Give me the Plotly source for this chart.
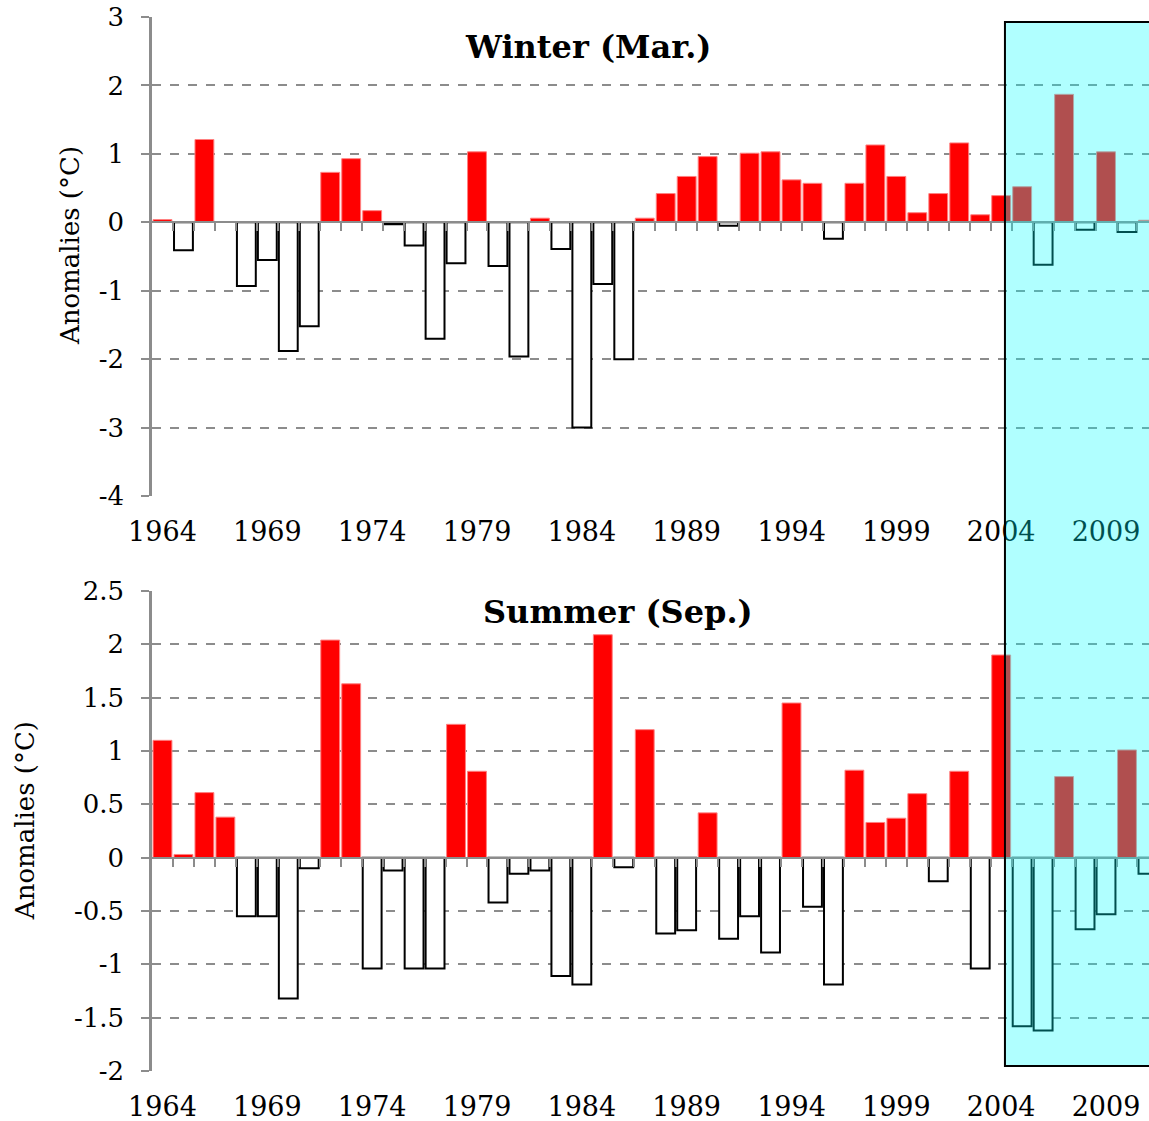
import plotly.graph_objects as go

years = list(range(1964, 2012))
winter = [0.04, -0.41, 1.21, 0.0, -0.93, -0.55, -1.88, -1.52, 0.73, 0.93,
          0.17, -0.03, -0.34, -1.70, -0.60, 1.03, -0.64, -1.96, 0.06, -0.39,
          -3.0, -0.90, -2.0, 0.06, 0.42, 0.67, 0.96, -0.05, 1.01, 1.03,
          0.62, 0.57, -0.24, 0.57, 1.13, 0.67, 0.14, 0.42, 1.16, 0.11,
          0.39, 0.52, -0.62, 1.87, -0.11, 1.03, -0.14, 0.03]
summer = [1.10, 0.03, 0.61, 0.38, -0.55, -0.55, -1.32, -0.10, 2.04, 1.63,
          -1.04, -0.12, -1.04, -1.04, 1.25, 0.81, -0.42, -0.15, -0.12, -1.11,
          -1.19, 2.09, -0.09, 1.20, -0.71, -0.68, 0.42, -0.76, -0.55, -0.89,
          1.45, -0.46, -1.19, 0.82, 0.33, 0.37, 0.60, -0.22, 0.81, -1.04,
          1.90, -1.58, -1.62, 0.76, -0.67, -0.53, 1.01, -0.15]
label_years = [1964, 1969, 1974, 1979, 1984, 1989, 1994, 1999, 2004, 2009]
top_ticks = [3, 2, 1, 0, -1, -2, -3, -4]
top_ticktext = ["3", "2", "1", "0", "-1", "-2", "-3", "-4"]
bot_ticks = [2.5, 2, 1.5, 1, 0.5, 0, -0.5, -1, -1.5, -2]
bot_ticktext = ["2.5", "2", "1.5", "1", "0.5", "0", "-0.5", "-1", "-1.5", "-2"]
titles = ["Winter (Mar.)", "Summer (Sep.)"]
ytitle = "Anomalies (°C)"
highlight_start = 2004.18

FONT = "DejaVu Serif"
GRAY = "#8c8c8c"
W, H = 1149, 1121
mt, mb, ml, mr = 17, 50, 152, 0
xr = [1963.5, 2011.05]
top_dom = [0.5455, 1.0]
bot_dom = [0.0, 0.4554]
top_rng = [-4, 3]
bot_rng = [-2, 2.5]


def styles(vals):
    fill, lc, lw = [], [], []
    for v in vals:
        if v > 0:
            fill.append("#ff0000"); lc.append("#ff8080"); lw.append(1)
        elif v < 0:
            fill.append("#ffffff"); lc.append("#000000"); lw.append(2)
        else:
            fill.append("rgba(0,0,0,0)"); lc.append("rgba(0,0,0,0)"); lw.append(0)
    return fill, lc, lw


def zero_pos(dom, rng):
    return dom[0] + (0 - rng[0]) / (rng[1] - rng[0]) * (dom[1] - dom[0])


fig = go.Figure()
for vals, xa, ya in [(winter, "x", "y"), (summer, "x2", "y2")]:
    f, lc, lw = styles(vals)
    fig.add_trace(go.Bar(x=years, y=vals, xaxis=xa, yaxis=ya,
                         marker=dict(color=f, line=dict(color=lc, width=lw)),
                         showlegend=False))
fig.add_trace(go.Scatter(x=[years[0]], y=[0], xaxis="x3", yaxis="y", mode="markers",
                         marker=dict(opacity=0), showlegend=False, hoverinfo="skip"))
fig.add_trace(go.Scatter(x=[years[0]], y=[0], xaxis="x4", yaxis="y2", mode="markers",
                         marker=dict(opacity=0), showlegend=False, hoverinfo="skip"))

boundaries = [y + 0.5 for y in years[:-1]]

xbase = dict(range=xr, tickvals=label_years, ticktext=[str(v) for v in label_years],
             ticks="outside", ticklen=12, tickcolor="rgba(0,0,0,0)", showgrid=False,
             showline=False, zeroline=False, automargin=False,
             tickfont=dict(family=FONT, size=27, color="black"))
ybase = dict(showgrid=True, gridcolor=GRAY, griddash="dash", gridwidth=1.5,
             showline=True, linecolor=GRAY, linewidth=2.5, ticks="outside", ticklen=8,
             tickwidth=2, tickcolor=GRAY, zeroline=False, ticklabelstandoff=12,
             automargin=False, tickfont=dict(family=FONT, size=26, color="black"))
xover = dict(range=xr, tickvals=boundaries, ticks="outside", ticklen=8, tickwidth=2,
             tickcolor=GRAY, showticklabels=False, showline=True, linecolor=GRAY,
             linewidth=2, showgrid=False, zeroline=False, anchor="free", automargin=False)

fig.update_layout(
    width=W, height=H, margin=dict(l=ml, r=mr, t=mt, b=mb, autoexpand=False),
    paper_bgcolor="white", plot_bgcolor="white", bargap=0.1,
    font=dict(family=FONT, color="black"),
    xaxis=dict(xbase, domain=[0, 1], anchor="y"),
    xaxis2=dict(xbase, domain=[0, 1], anchor="y2"),
    yaxis=dict(ybase, domain=top_dom, range=top_rng, anchor="x",
               tickvals=top_ticks, ticktext=top_ticktext),
    yaxis2=dict(ybase, domain=bot_dom, range=bot_rng, anchor="x2",
                tickvals=bot_ticks, ticktext=bot_ticktext),
    xaxis3=dict(xover, overlaying="x", position=zero_pos(top_dom, top_rng)),
    xaxis4=dict(xover, overlaying="x2", position=zero_pos(bot_dom, bot_rng)),
    shapes=[dict(type="rect", xref="x", yref="paper", x0=highlight_start, x1=2013,
                 y0=0.0047, y1=0.9953, fillcolor="rgba(0,255,255,0.31)",
                 line=dict(color="black", width=2), layer="above")],
    annotations=[
        dict(text="<b>" + titles[0] + "</b>", xref="paper", yref="paper", x=0.437, y=0.9715,
             xanchor="center", yanchor="middle", showarrow=False,
             font=dict(family=FONT, size=32, color="black")),
        dict(text="<b>" + titles[1] + "</b>", xref="paper", yref="paper", x=0.467, y=0.4355,
             xanchor="center", yanchor="middle", showarrow=False,
             font=dict(family=FONT, size=32, color="black")),
        dict(text=ytitle, xref="paper", yref="paper", x=-0.0822, y=0.7827, textangle=-90,
             xanchor="center", yanchor="middle", showarrow=False,
             font=dict(family=FONT, size=26, color="black")),
        dict(text=ytitle, xref="paper", yref="paper", x=-0.1274, y=0.238, textangle=-90,
             xanchor="center", yanchor="middle", showarrow=False,
             font=dict(family=FONT, size=26, color="black")),
    ],
)

fig.write_html("out.html", config={"displayModeBar": False},
               post_script="document.body.style.margin='0px';document.body.style.overflow='hidden';")
